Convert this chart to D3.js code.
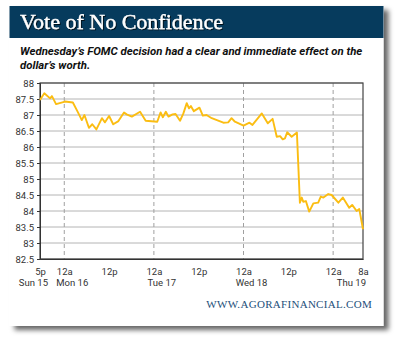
<!DOCTYPE html>
<html>
<head>
<meta charset="utf-8">
<script src="https://cdn.jsdelivr.net/npm/d3@7"></script>
<style>
  body { margin: 0; background: #fff; }
  svg { display: block; }
</style>
</head>
<body>
<div id="chart"></div>
<script>
// US dollar index, Sun 15 - Thu 19 (hours since Sun 5:30p)
const hours = [0, 1.15, 2.7, 3.2, 4.3, 6.7, 8.8, 10.0, 11.2, 11.9, 13.1, 14.0, 15.1, 16.6, 17.4,
  18.5, 19.6, 21.0, 22.5, 23.2, 24.6, 26.8, 28.3, 31.4, 32.3, 32.9, 33.7, 34.4, 35.5, 36.3,
  37.5, 38.4, 39.3, 39.9, 40.4, 41.2, 42.7, 43.6, 44.6, 46.0, 49.1, 50.4, 51.3, 52.2, 54.5,
  56.1, 56.9, 59.4, 61.0, 62.3, 63.4, 64.3, 65.0, 65.6, 66.2, 67.4, 68.8, 69.6, 70.1, 70.5,
  71.2, 72.1, 73.2, 74.5, 75.2, 75.9, 77.2, 78.1, 79.9, 81.1, 82.8, 83.6, 84.8, 85.5, 86.5];
const values = [87.47, 87.68, 87.52, 87.59, 87.34, 87.42, 87.39, 87.12, 86.84, 87.0, 86.6, 86.71, 86.55, 86.9, 86.77,
  86.97, 86.71, 86.81, 87.08, 87.02, 86.95, 87.1, 86.82, 86.79, 87.08, 86.93, 87.1, 86.95, 87.02, 87.03,
  86.82, 87.05, 87.37, 87.21, 87.28, 87.12, 87.23, 86.98, 87.0, 86.9, 86.76, 86.77, 86.9, 86.79, 86.67,
  86.76, 86.69, 87.05, 86.74, 86.88, 86.32, 86.34, 86.24, 86.27, 86.46, 86.32, 86.45, 84.26, 84.42, 84.29,
  84.31, 83.98, 84.24, 84.26, 84.45, 84.42, 84.53, 84.5, 84.26, 84.42, 84.1, 84.19, 84.0, 84.06, 83.43];

const yTicks = [82.5, 83, 83.5, 84, 84.5, 85, 85.5, 86, 86.5, 87, 87.5, 88];
const xTickLabels = ["5p", "12a", "12p", "12a", "12p", "12a", "12p", "12a", "8a"];
const dayLabels = ["Sun 15", "Mon 16", "Tue 17", "Wed 18", "Thu 19"];

const start = new Date(2013, 8, 15, 17, 30);
const end = new Date(2013, 8, 19, 8, 0);
const data = hours.map((h, i) => ({ date: new Date(+start + h * 3600e3), value: values[i] }));

const xTicks = [start].concat(d3.timeHour.every(12).range(new Date(2013, 8, 16, 0), end), [end]);
const dayDates = [start, new Date(2013, 8, 16), new Date(2013, 8, 17), new Date(2013, 8, 18), end];

const W = 400, H = 343;
const margin = { top: 83, right: 37, bottom: 84, left: 40 },
  width = W - margin.left - margin.right,
  height = H - margin.top - margin.bottom;

const svg = d3.select("#chart")
  .append("svg")
  .attr("width", W)
  .attr("height", H);

const defs = svg.append("defs");
const f = defs.append("filter").attr("id", "shadow")
  .attr("x", "-5%").attr("y", "-5%").attr("width", "115%").attr("height", "115%");
f.append("feDropShadow").attr("dx", 5).attr("dy", 4).attr("stdDeviation", 2.8)
  .attr("flood-color", "#000").attr("flood-opacity", 0.6);
const ts = defs.append("filter").attr("id", "tshadow");
ts.append("feDropShadow").attr("dx", 1).attr("dy", 1).attr("stdDeviation", 0.6)
  .attr("flood-color", "#000").attr("flood-opacity", 0.7);

// card + header
svg.append("rect").attr("x", 9.5).attr("y", 6).attr("width", 374).attr("height", 320)
  .attr("fill", "#fff").attr("filter", "url(#shadow)");
svg.append("rect").attr("x", 9.5).attr("y", 6).attr("width", 374).attr("height", 32)
  .attr("fill", "#063b5d");

svg.append("text").attr("x", 20).attr("y", 28.5)
  .attr("fill", "#fff").attr("filter", "url(#tshadow)")
  .style("font-family", "'Liberation Serif', 'Times New Roman', serif")
  .style("font-size", "22px").style("stroke", "#fff").style("stroke-width", 0.35)
  .text("Vote of No Confidence");

const sub = svg.append("text")
  .style("font-family", "Roboto, 'Liberation Sans', sans-serif")
  .style("font-size", "11.4px").style("font-weight", "bold").style("font-style", "italic")
  .attr("fill", "#111");
sub.append("tspan").attr("x", 20).attr("y", 55)
  .text("Wednesday\u2019s FOMC decision had a clear and immediate effect on the");
sub.append("tspan").attr("x", 20).attr("y", 68.5).text("dollar\u2019s worth.");

const g = svg.append("g").attr("transform", `translate(${margin.left},${margin.top})`);

const x = d3.scaleTime().domain([start, end]).range([0, width]);
const y = d3.scaleLinear().domain([82.5, 88]).range([height, 0]);

// horizontal grid
g.append("g")
  .selectAll("line").data(yTicks).join("line")
  .attr("x1", 0).attr("x2", width)
  .attr("y1", d => y(d)).attr("y2", d => y(d))
  .attr("stroke", "#b4b4b4").attr("stroke-width", 1);

// dashed midnight lines
g.append("g")
  .selectAll("line").data(dayDates.slice(1, 4).concat([new Date(2013, 8, 19)])).join("line")
  .attr("x1", d => x(d)).attr("x2", d => x(d))
  .attr("y1", 0).attr("y2", height)
  .attr("stroke", "#a0a0a0").attr("stroke-dasharray", "4,3");

// frame
g.append("rect").attr("width", width).attr("height", height)
  .attr("fill", "none").attr("stroke", "#444").attr("stroke-width", 1.2);

const tickFont = "Roboto, 'Liberation Sans', sans-serif";

// Y axis
const yAxis = g.append("g")
  .call(d3.axisLeft(y).tickValues(yTicks).tickSize(3).tickFormat(d3.format("")));
yAxis.select(".domain").attr("stroke", "#333");
yAxis.selectAll(".tick line").attr("stroke", "#333");
yAxis.selectAll("text").attr("fill", "#333")
  .style("font-family", tickFont).style("font-size", "9.5px");

// X axis
const xAxis = g.append("g")
  .attr("transform", `translate(0,${height})`)
  .call(d3.axisBottom(x).tickValues(xTicks).tickSize(0)
    .tickFormat((d, i) => xTickLabels[i]).tickPadding(9));
xAxis.select(".domain").attr("stroke", "#333");
xAxis.selectAll("text").attr("fill", "#333")
  .style("font-family", tickFont).style("font-size", "9.5px");

// day labels
g.append("g")
  .selectAll("text").data(dayDates).join("text")
  .attr("x", (d, i) => i === 0 ? x(d) + 8 : i === dayLabels.length - 1 ? x(d) + 3 : x(d) + 8)
  .attr("y", height + 27)
  .attr("text-anchor", (d, i) => i === 0 || i === dayLabels.length - 1 ? "end" : "middle")
  .attr("fill", "#333")
  .style("font-family", tickFont).style("font-size", "9.5px")
  .text((d, i) => dayLabels[i]);

// line
g.append("path")
  .datum(data)
  .attr("fill", "none")
  .attr("stroke", "#fbbd12")
  .attr("stroke-width", 1.9)
  .attr("stroke-linejoin", "round")
  .attr("d", d3.line().x(d => x(d.date)).y(d => y(d.value)));

svg.append("text").attr("x", 372).attr("y", 307.5)
  .attr("text-anchor", "end")
  .attr("fill", "#1d4f7a")
  .style("font-family", "'Liberation Serif', 'Times New Roman', serif")
  .style("font-size", "11px").style("letter-spacing", "0.3px")
  .text("WWW.AGORAFINANCIAL.COM");
</script>
</body>
</html>
